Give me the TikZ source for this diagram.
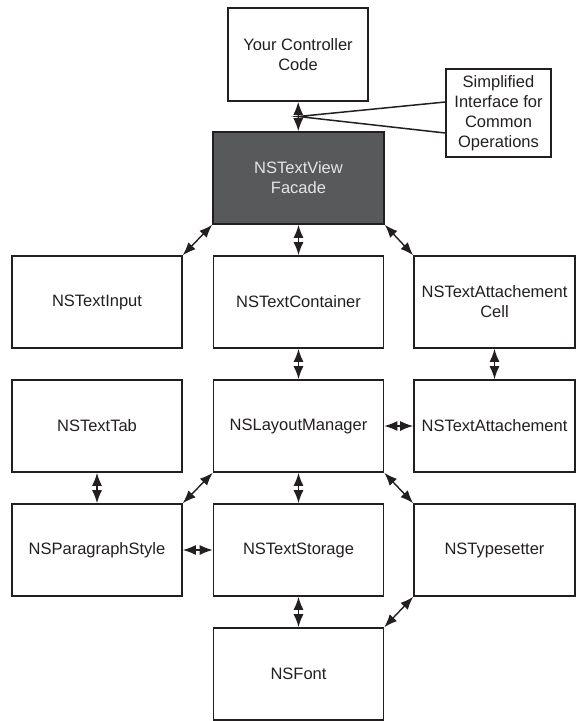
\documentclass[tikz,border=0pt]{standalone}
\usepackage{fontspec}
\setmainfont{Liberation Sans}
\usetikzlibrary{arrows.meta, calc}
\definecolor{facadegray}{RGB}{88, 89, 91}
\definecolor{inkblack}{RGB}{35, 31, 32}

\tikzset{
  cls/.style={draw=inkblack, line width=1.6pt, fill=white, minimum width=170pt,
    minimum height=92pt, inner sep=2pt, align=center, text=inkblack,
    font=\fontsize{16.5}{20}\selectfont},
  link/.style={{Latex[length=13pt,width=10pt]}-{Latex[length=13pt,width=10pt]},
    line width=1.4pt, draw=inkblack},
}

\begin{document}
\begin{tikzpicture}[x=1pt, y=-1pt]
  \useasboundingbox (0,0) rectangle (576,721);

  % caller and facade
  \node[cls, minimum width=140pt, minimum height=93pt] (ctrl) at (298,54.5) {Your Controller\\Code};
  \node[cls, minimum width=171pt, fill=facadegray, text=white!90!black] (facade) at (298.5,178) {NSTextView\\Facade};
  \node[cls, minimum width=105pt, minimum height=88pt] (note) at (498.5,113) {Simplified\\Interface for\\Common\\Operations};

  % text system classes
  \node[cls] (input)     at (97,302)    {NSTextInput};
  \node[cls] (container) at (298.5,302) {NSTextContainer};
  \node[cls, minimum width=161pt] (cell) at (494.5,302) {NSTextAttachement\\Cell};
  \node[cls] (tab)       at (97,426)    {NSTextTab};
  \node[cls] (layout)    at (298.5,426) {NSLayoutManager};
  \node[cls, minimum width=161pt] (attach) at (494.5,426) {NSTextAttachement};
  \node[cls] (para)      at (97,550)    {NSParagraphStyle};
  \node[cls] (storage)   at (298.5,550) {NSTextStorage};
  \node[cls, minimum width=161pt] (typeset) at (494.5,550) {NSTypesetter};
  \node[cls] (font)      at (298.5,674) {NSFont};

  % links
  \draw[link] (ctrl) -- (facade);
  \draw[link] (facade.south west) -- (input.north east);
  \draw[link] (facade) -- (container);
  \draw[link] (facade.south east) -- (cell.north west);
  \draw[link] (container) -- (layout);
  \draw[link] (cell) -- (attach);
  \draw[link] (layout) -- (attach);
  \draw[link] (tab) -- (para);
  \draw[link] (layout.south west) -- (para.north east);
  \draw[link] (layout) -- (storage);
  \draw[link] (layout.south east) -- (typeset.north west);
  \draw[link] (para) -- (storage);
  \draw[link] (storage) -- (font);
  \draw[link] (typeset.south west) -- (font.north east);

  % callout wedge
  \coordinate (tip) at ($(ctrl.south)!0.5!(facade.north)$);
  \draw[draw=inkblack, line width=1.5pt, line join=miter]
    ($(note.west)+(0,-11)$) -- (tip) -- ($(note.west)+(0,20)$);
\end{tikzpicture}
\end{document}
